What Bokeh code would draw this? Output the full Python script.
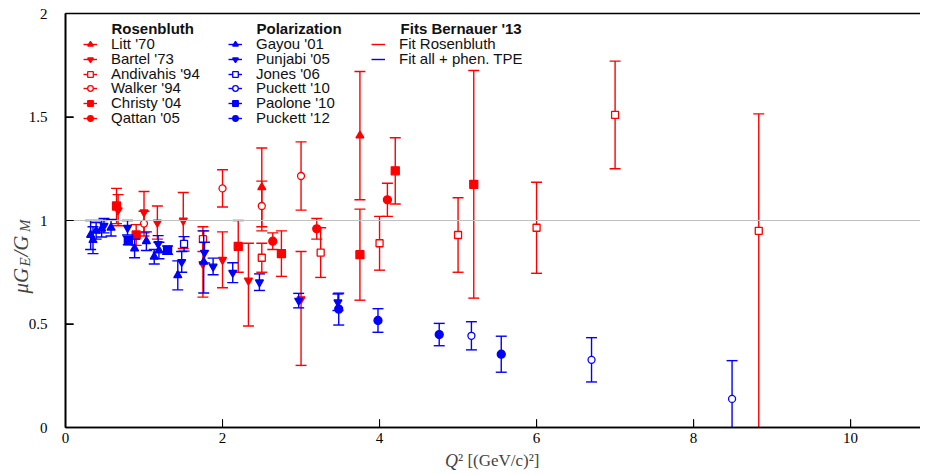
from bokeh.plotting import figure
from bokeh.models import (ColumnDataSource, BoxAnnotation, Label, Legend, LegendItem,
                          FixedTicker, Range1d, CDSView, BooleanFilter)
from bokeh.embed import file_html
from bokeh.resources import INLINE

# ---------------- data: Rosenbluth separations (red) ----------------
litt70_q2 = [2.5, 3.75]
litt70_r = [1.16, 1.41]
litt70_err = [0.19, 0.31]

bartel73_q2 = [0.67, 1.0, 1.17, 1.5, 1.75, 2.0, 2.33, 3.0]
bartel73_r = [1.05, 1.04, 0.99, 1.00, 0.79, 0.81, 0.71, 0.62]
bartel73_err_up = [0.075, 0.10, 0.08, 0.135, 0.16, 0.135, 0.18, 0.23]
bartel73_err_down = [0.075, 0.10, 0.08, 0.135, 0.16, 0.135, 0.22, 0.32]

andivahis94_q2 = [1.75, 2.5, 3.25, 4.0, 5.0, 6.0, 7.0, 8.83]
andivahis94_r = [0.91, 0.82, 0.845, 0.89, 0.93, 0.965, 1.51, 0.95]
andivahis94_err_up = [0.06, 0.07, 0.12, 0.13, 0.18, 0.22, 0.26, 0.565]
andivahis94_err_down = [0.06, 0.07, 0.12, 0.13, 0.18, 0.22, 0.26, 1.0]

walker94_q2 = [1.0, 2.0, 2.5, 3.0]
walker94_r = [0.985, 1.155, 1.07, 1.215]
walker94_err = [0.06, 0.09, 0.12, 0.165]

christy04_q2 = [0.65, 0.9, 2.2, 2.75, 3.75, 4.2, 5.2]
christy04_r = [1.07, 0.93, 0.875, 0.84, 0.835, 1.24, 1.175]
christy04_err = [0.085, 0.05, 0.125, 0.11, 0.22, 0.16, 0.55]

qattan05_q2 = [2.64, 3.2, 4.1]
qattan05_r = [0.90, 0.96, 1.10]
qattan05_err = [0.04, 0.05, 0.08]

# ---------------- data: polarization transfer (blue) ----------------
gayou01_q2 = [0.32, 0.35, 0.39, 0.46, 0.58, 0.88, 1.03, 1.13, 1.19, 1.43, 1.76]
gayou01_r = [0.93, 0.905, 0.95, 0.96, 0.965, 0.865, 0.90, 0.825, 0.855, 0.735, 0.80]
gayou01_err = [0.07, 0.065, 0.04, 0.04, 0.04, 0.045, 0.045, 0.035, 0.04, 0.07, 0.15]

punjabi05_q2 = [0.49, 0.79, 1.18, 1.48, 1.77, 1.88, 2.13, 2.47, 2.97, 3.47]
punjabi05_r = [0.975, 0.965, 0.887, 0.80, 0.845, 0.778, 0.748, 0.702, 0.613, 0.605]
punjabi05_err = [0.035, 0.035, 0.04, 0.05, 0.05, 0.04, 0.048, 0.04, 0.035, 0.04]

jones06_q2 = [1.51]
jones06_r = [0.887]
jones06_err = [0.035]

puckett10_q2 = [5.17, 6.70, 8.49]
puckett10_r = [0.443, 0.327, 0.138]
puckett10_err_up = [0.068, 0.107, 0.185]
puckett10_err_down = [0.068, 0.107, 0.20]

paolone10_q2 = [0.8, 1.3]
paolone10_r = [0.903, 0.857]
paolone10_err = [0.02, 0.02]

puckett12_q2 = [3.48, 3.98, 4.76, 5.55]
puckett12_r = [0.572, 0.517, 0.449, 0.354]
puckett12_err = [0.077, 0.057, 0.054, 0.087]

# fits: no curve is visible inside the shown range (legend swatch only)
fit_rosenbluth_q2, fit_rosenbluth_r = [float("nan")], [float("nan")]
fit_tpe_q2, fit_tpe_r = [float("nan")], [float("nan")]

x_ticks = [0, 2, 4, 6, 8, 10]
x_tick_labels = ["0", "2", "4", "6", "8", "10"]
y_ticks = [0, 0.5, 1, 1.5, 2]
y_tick_labels = ["0", "0.5", "1", "1.5", "2"]

RED = "#ff0000"
BLUE = "#0000ff"
SERIF = "Liberation Serif"
SANS = "Liberation Sans"

# shown region of the plot (axes sit at x=0 and y=0, labels outside it)
X_MIN, X_MAX = 0, 10.89
Y_MIN, Y_MAX = 0, 2
PX_X, PX_Y = 78.5, 207.0          # pixels per data unit

p = figure(width=920, height=470, output_backend="svg", toolbar_location=None,
           x_range=Range1d(-65 / PX_X, X_MAX), y_range=Range1d(-43 / PX_Y, Y_MAX + 13 / PX_Y),
           min_border_left=0, min_border_right=0, min_border_top=0, min_border_bottom=0)
p.outline_line_color = None
p.xgrid.visible = False
p.ygrid.visible = False
p.background_fill_color = "white"

for ax in (p.xaxis[0], p.yaxis[0]):
    ax.major_tick_in = 8
    ax.major_tick_out = 0
    ax.minor_tick_line_color = None
    ax.axis_line_width = 1.6
    ax.axis_line_color = "black"
    ax.major_tick_line_color = "black"
    ax.major_tick_line_width = 1
    ax.major_label_text_font = SERIF
    ax.major_label_text_font_size = "15px"
    ax.major_label_text_color = "black"
p.xaxis.ticker = FixedTicker(ticks=x_ticks)
p.yaxis.ticker = FixedTicker(ticks=y_ticks)
p.yaxis.major_label_overrides = dict(zip(y_ticks, y_tick_labels))
p.xaxis.major_label_overrides = dict(zip(x_ticks, x_tick_labels))
p.xaxis.bounds = (X_MIN, X_MAX)
p.yaxis.bounds = (Y_MIN, Y_MAX)
p.yaxis.fixed_location = X_MIN
p.xaxis.fixed_location = Y_MIN
p.xaxis.major_label_standoff = 5
p.yaxis.major_label_standoff = 18

# frame lines: left spine, bottom spine, top line, and reference line at 1
LINE = dict(line_alpha=1, fill_alpha=0)
p.add_layout(BoxAnnotation(left=X_MIN, right=X_MIN, bottom=Y_MIN, top=Y_MAX,
                           line_color="black", line_width=1.6, **LINE))
p.add_layout(BoxAnnotation(left=X_MIN, bottom=Y_MIN, top=Y_MIN,
                           line_color="black", line_width=1.6, **LINE))
p.add_layout(BoxAnnotation(left=X_MIN, bottom=Y_MAX, top=Y_MAX,
                           line_color="black", line_width=1.6, **LINE))
p.add_layout(BoxAnnotation(left=X_MIN, bottom=1, top=1,
                           line_color="#c0c0c0", line_width=1, **LINE))
# inward tick marks (8 px)
for t in y_ticks[1:-1]:
    p.add_layout(BoxAnnotation(left=X_MIN, right=X_MIN + 8 / PX_X, bottom=t, top=t,
                               line_color="black", line_width=1, **LINE))
for t in x_ticks[1:]:
    p.add_layout(BoxAnnotation(left=t, right=t, bottom=Y_MIN, top=Y_MIN + 8 / PX_Y,
                               line_color="black", line_width=1, **LINE))


def add_series(q2, r, err_up, err_down, color, marker, filled, size):
    lo_raw = [a - b for a, b in zip(r, err_down)]
    src = ColumnDataSource(dict(x=q2, y=r,
                                lo=[max(v, Y_MIN) for v in lo_raw],
                                hi=[a + b for a, b in zip(r, err_up)]))
    seg = p.segment(x0="x", y0="lo", x1="x", y1="hi", source=src,
                    line_color=color, line_width=1.4)
    cap_style = dict(marker="dash", size=11, line_color=color, line_width=1.4)
    cap_hi = p.scatter(x="x", y="hi", source=src, **cap_style)
    p.scatter(x="x", y="lo", source=src,
              view=CDSView(filter=BooleanFilter([v >= Y_MIN for v in lo_raw])), **cap_style)
    mk = p.scatter(x="x", y="y", source=src, marker=marker, size=size,
                   line_color=color, line_width=1.3,
                   fill_color=color if filled else "white")
    return [seg, cap_hi, mk]


ros = [
    ("Litt '70", add_series(litt70_q2, litt70_r, litt70_err, litt70_err, RED, "triangle", True, 8)),
    ("Bartel '73", add_series(bartel73_q2, bartel73_r, bartel73_err_up, bartel73_err_down, RED, "inverted_triangle", True, 8)),
    ("Andivahis '94", add_series(andivahis94_q2, andivahis94_r, andivahis94_err_up, andivahis94_err_down, RED, "square", False, 7)),
    ("Walker '94", add_series(walker94_q2, walker94_r, walker94_err, walker94_err, RED, "circle", False, 7)),
    ("Christy '04", add_series(christy04_q2, christy04_r, christy04_err, christy04_err, RED, "square", True, 8)),
    ("Qattan '05", add_series(qattan05_q2, qattan05_r, qattan05_err, qattan05_err, RED, "circle", True, 8)),
]
pol = [
    ("Gayou '01", add_series(gayou01_q2, gayou01_r, gayou01_err, gayou01_err, BLUE, "triangle", True, 8)),
    ("Punjabi '05", add_series(punjabi05_q2, punjabi05_r, punjabi05_err, punjabi05_err, BLUE, "inverted_triangle", True, 8)),
    ("Jones '06", add_series(jones06_q2, jones06_r, jones06_err, jones06_err, BLUE, "square", False, 7)),
    ("Puckett '10", add_series(puckett10_q2, puckett10_r, puckett10_err_up, puckett10_err_down, BLUE, "circle", False, 7)),
    ("Paolone '10", add_series(paolone10_q2, paolone10_r, paolone10_err, paolone10_err, BLUE, "square", True, 8)),
    ("Puckett '12", add_series(puckett12_q2, puckett12_r, puckett12_err, puckett12_err, BLUE, "circle", True, 8)),
]
fit_r = p.line(x=fit_rosenbluth_q2, y=fit_rosenbluth_r, line_color=RED, line_width=1.4)
fit_b = p.line(x=fit_tpe_q2, y=fit_tpe_r, line_color=BLUE, line_width=1.4)
fits = [("Fit Rosenbluth", [fit_r]), ("Fit all + phen. TPE", [fit_b])]

# one legend per row so that the rows sit 14.8 px apart as in the reference
ROW0, ROW_STEP = 418, 14.8


def make_column(entries, vx):
    for i, (lab, rends) in enumerate(entries):
        leg = Legend(items=[LegendItem(label=lab, renderers=rends)],
                     location=(vx, round(ROW0 - ROW_STEP * i)),
                     glyph_width=14, glyph_height=14, label_height=14,
                     label_standoff=14, spacing=0, padding=0, margin=0,
                     border_line_color=None, background_fill_alpha=0,
                     label_text_font=SANS, label_text_font_size="15px",
                     label_text_color="#111111")
        p.add_layout(leg)


make_column(ros, 83)
make_column(pol, 228)
make_column(fits, 371)

for txt, xx in (("Rosenbluth", 0.586), ("Polarization", 2.433), ("Fits Bernauer '13", 4.268)):
    p.add_layout(Label(x=xx, y=1.928, text=txt, text_font=SANS, text_font_size="15px",
                       text_font_style="bold", text_baseline="middle", text_align="left",
                       text_color="#111111"))

# x-axis title
p.add_layout(Label(x=5.0, y=-0.16, text="Q", text_font=SERIF, text_font_style="italic",
                   text_font_size="18px", text_align="right", text_baseline="middle"))
p.add_layout(Label(x=5.0, y=-0.16, text="² [(GeV/c)²]", text_font=SERIF,
                   text_font_size="17px", text_align="left", text_baseline="middle"))

# y-axis title built from pieces (rotated)
ANG = 1.5707963
p.add_layout(Label(x=-0.573, y=0.647, text="μG", text_font=SERIF, text_font_style="italic",
                   text_font_size="21px", angle=ANG, text_align="left", text_baseline="middle"))
p.add_layout(Label(x=-0.51, y=0.778, text="E", text_font=SERIF, text_font_style="italic",
                   text_font_size="15px", angle=ANG, text_align="left", text_baseline="middle"))
p.add_layout(Label(x=-0.573, y=0.826, text="/G", text_font=SERIF, text_font_style="italic",
                   text_font_size="21px", angle=ANG, text_align="left", text_baseline="middle"))
p.add_layout(Label(x=-0.51, y=0.945, text="M", text_font=SERIF, text_font_style="italic",
                   text_font_size="15px", angle=ANG, text_align="left", text_baseline="middle"))

open("out.html", "w").write(file_html(p, INLINE))
